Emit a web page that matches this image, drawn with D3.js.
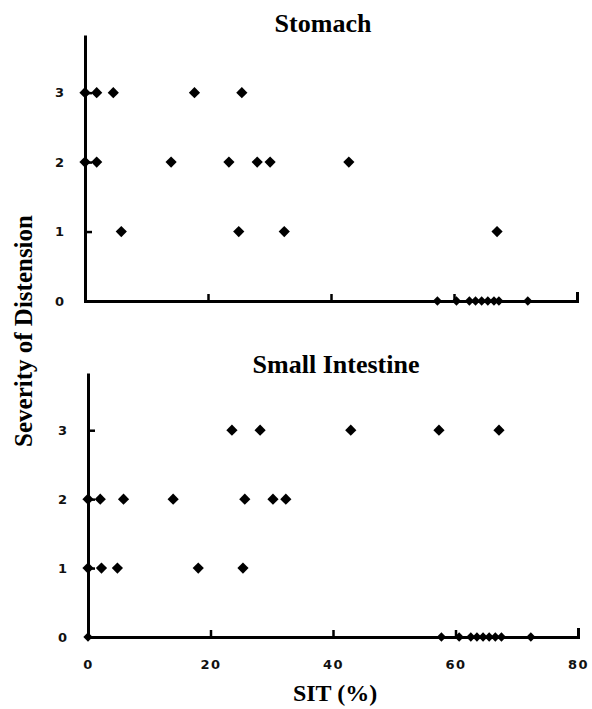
<!DOCTYPE html>
<html>
<head>
<meta charset="utf-8">
<script src="https://cdn.jsdelivr.net/npm/d3@7"></script>
<style>
  html, body { margin: 0; padding: 0; background: #fff; }
  svg { display: block; }
</style>
</head>
<body>
<svg id="chart" width="592" height="709"></svg>
<script>
// ---------- DATA ----------
const panelTitles = ["Stomach", "Small Intestine"];
const xTicks = [0, 20, 40, 60, 80];
const yTicks = [0, 1, 2, 3];
const xAxisTitle = "SIT (%)";
const yAxisTitle = "Severity of Distension";

// Stomach: SIT (%) and severity
const stomachSIT = [0, 1.9, 4.6, 17.8, 25.5,
                    0, 1.9, 14.0, 23.4, 28.0, 30.1, 42.9,
                    5.9, 25.0, 32.4, 67.0,
                    57.3, 60.4, 62.5, 63.5, 64.5, 65.5, 66.5, 67.3, 72.0];
const stomachSev = [3, 3, 3, 3, 3,
                    2, 2, 2, 2, 2, 2, 2,
                    1, 1, 1, 1,
                    0, 0, 0, 0, 0, 0, 0, 0, 0];

// Small intestine: SIT (%) and severity
const intestineSIT = [23.5, 28.1, 42.9, 57.3, 67.1,
                      0, 2.0, 5.8, 13.9, 25.6, 30.2, 32.3,
                      0, 2.2, 4.8, 18.0, 25.3,
                      0, 57.7, 60.6, 62.5, 63.5, 64.5, 65.5, 66.5, 67.5, 72.3];
const intestineSev = [3, 3, 3, 3, 3,
                      2, 2, 2, 2, 2, 2, 2,
                      1, 1, 1, 1, 1,
                      0, 0, 0, 0, 0, 0, 0, 0, 0, 0];

// ---------- DRAW ----------
const svg = d3.select("#chart");
const serif = "'Liberation Serif', 'Times New Roman', Times, serif";
const sans = "'DejaVu Sans', 'Liberation Sans', Arial, sans-serif";

const diamond = d3.symbolDiamond2 || {
  draw(ctx, size) {
    const r = Math.sqrt(size) * 0.62625;
    ctx.moveTo(0, -r); ctx.lineTo(r, 0); ctx.lineTo(0, r); ctx.lineTo(-r, 0); ctx.closePath();
  }
};

const panels = [
  { title: panelTitles[0], xs: stomachSIT, ys: stomachSev,
    x0: 85, x1: 577, yBottom: 301, yTop: 35, showXLabels: false, titleX: 323, titleY: 32 },
  { title: panelTitles[1], xs: intestineSIT, ys: intestineSev,
    x0: 88, x1: 578, yBottom: 637, yTop: 373, showXLabels: true, titleX: 336, titleY: 373 }
];

panels.forEach(p => {
  const x = d3.scaleLinear().domain([0, 80]).range([p.x0, p.x1]);
  const y = d3.scaleLinear().domain([0, 3.83]).range([p.yBottom, p.yTop]);

  // Y axis
  const yAxis = d3.axisLeft(y).tickValues(yTicks).tickFormat(d3.format("d"))
    .tickSizeInner(-7).tickSizeOuter(0).tickPadding(21);
  const gy = svg.append("g").attr("transform", `translate(${p.x0},0)`).call(yAxis);
  gy.select(".domain").attr("stroke", "#000").attr("stroke-width", 3);
  gy.selectAll(".tick line").attr("stroke", "#000").attr("stroke-width", 2.5);
  gy.selectAll(".tick text").attr("font-family", sans).attr("font-size", 13)
    .attr("font-weight", "bold").attr("fill", "#111");

  // X axis
  const xAxis = d3.axisBottom(x).tickValues(xTicks).tickFormat(d3.format("d"))
    .tickSizeInner(-7).tickSizeOuter(-9).tickPadding(23);
  const gx = svg.append("g").attr("transform", `translate(0,${p.yBottom})`).call(xAxis);
  gx.select(".domain").attr("stroke", "#000").attr("stroke-width", 3);
  gx.selectAll(".tick line").attr("stroke", "#000").attr("stroke-width", 2.5);
  gx.selectAll(".tick text").attr("font-family", sans).attr("font-size", 13)
    .attr("font-weight", "bold").attr("fill", "#111").attr("letter-spacing", 1.5)
    .style("display", p.showXLabels ? null : "none");

  // Title
  svg.append("text").attr("x", p.titleX).attr("y", p.titleY)
    .attr("text-anchor", "middle").attr("font-family", serif)
    .attr("font-weight", "bold").attr("font-size", 26).attr("fill", "#000")
    .text(p.title);

  // Points
  const pts = p.xs.map((v, i) => ({ x: v, y: p.ys[i] }));
  svg.append("g").selectAll("path").data(pts).join("path")
    .attr("transform", d => `translate(${x(d.x)},${y(d.y)})`)
    .attr("d", d => d3.symbol().type(diamond).size(d.y === 0 ? 55 : 80)())
    .attr("fill", "#000");
});

// Axis titles
svg.append("text").attr("x", 335).attr("y", 701)
  .attr("text-anchor", "middle").attr("font-family", serif)
  .attr("font-weight", "bold").attr("font-size", 24).attr("fill", "#000")
  .text(xAxisTitle);

svg.append("text").attr("transform", "translate(32,331) rotate(-90)")
  .attr("text-anchor", "middle").attr("font-family", serif)
  .attr("font-weight", "bold").attr("font-size", 25).attr("fill", "#000")
  .text(yAxisTitle);
</script>
</body>
</html>
